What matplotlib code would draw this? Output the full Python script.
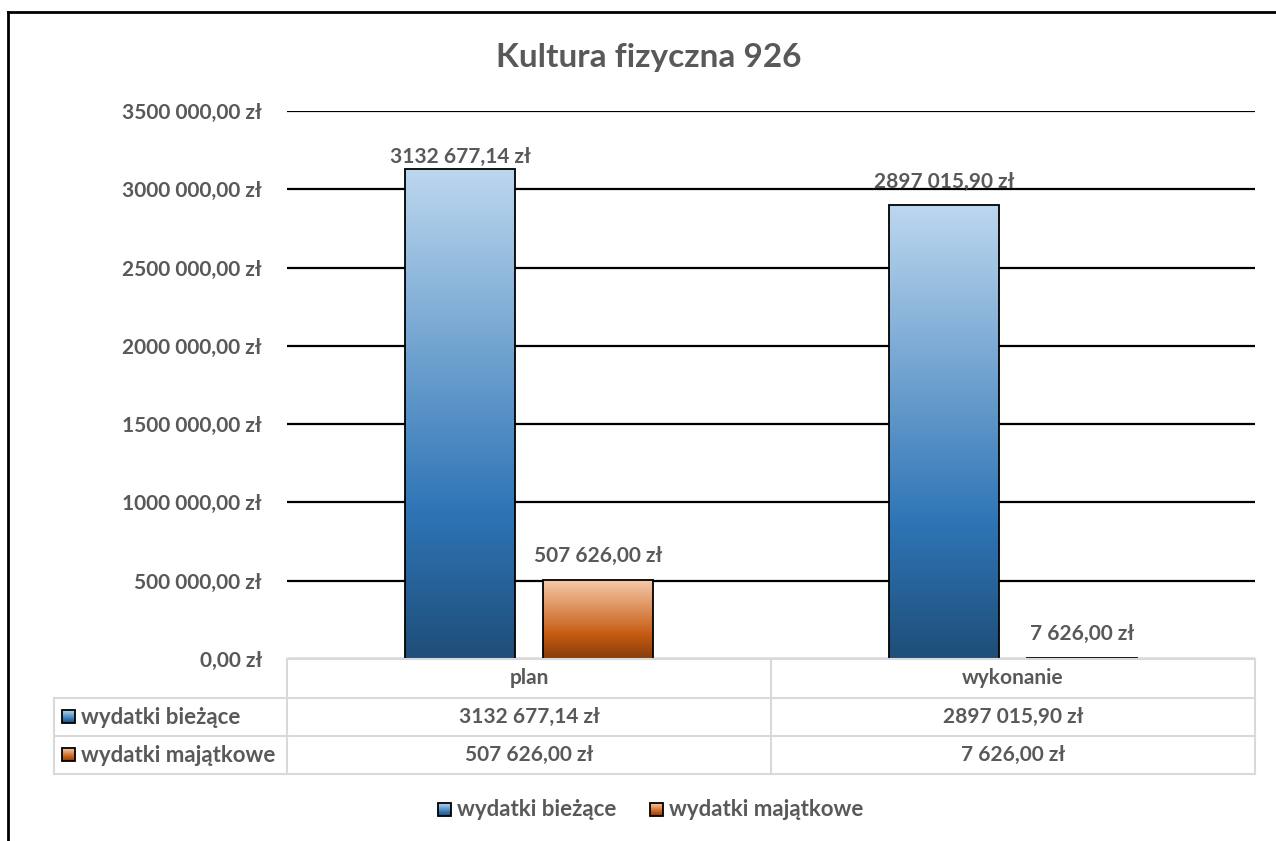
import numpy as np
import matplotlib
matplotlib.use("Agg")
import matplotlib.pyplot as plt
from matplotlib.colors import LinearSegmentedColormap
from matplotlib.patches import Rectangle

# ---- data ----
title = "Kultura fizyczna 926"
categories = ["plan", "wykonanie"]
series_names = ["wydatki bieżące", "wydatki majątkowe"]
wydatki_biezace = [3132677.14, 2897015.90]
wydatki_majatkowe = [507626.00, 7626.00]
y_ticks = [0, 500000, 1000000, 1500000, 2000000, 2500000, 3000000, 3500000]

TEXT = "#595959"
GRID_TABLE = "#d9d9d9"
FONT = ["Lato", "DejaVu Sans"]
plt.rcParams["font.family"] = FONT
plt.rcParams["font.weight"] = "bold"

blue_cmap = LinearSegmentedColormap.from_list(
    "blue", [(0.0, "#1f4e79"), (0.30, "#2e75b6"), (1.0, "#bdd7ee")])
orange_cmap = LinearSegmentedColormap.from_list(
    "orange", [(0.0, "#843c0c"), (0.30, "#c55a11"), (1.0, "#f8cbad")])


def fmt_pln(v):
    whole = int(v)
    cents = int(round((v - whole) * 100))
    if whole >= 1000:
        s = f"{whole // 1000} {whole % 1000:03d}"
    else:
        s = str(whole)
    return f"{s},{cents:02d} zł"


W, H = 1276, 841
fig = plt.figure(figsize=(W / 100, H / 100), dpi=100)
fig.patch.set_facecolor("white")

FS_NUM = 15
FS_TABLE_NUM = 15
FS_WORD = 16

# ---- main plot area ----
left, right, top, bottom = 287, 1255, 111, 659
ax = fig.add_axes([left / W, 1 - bottom / H, (right - left) / W, (bottom - top) / H])
ax.set_facecolor("none")
ax.set_xlim(-0.5, len(categories) - 0.5)
ax.set_ylim(0, 3500000)
ax.set_yticks(y_ticks)
ax.set_yticklabels([fmt_pln(t) for t in y_ticks])
ax.tick_params(axis="y", length=0, pad=18, labelsize=FS_NUM, labelcolor=TEXT)
ax.set_xticks([])
for s in ax.spines.values():
    s.set_visible(False)
ax.yaxis.grid(True, color="black", linewidth=1.6)
ax.set_axisbelow(True)
for lab in ax.get_yticklabels():
    lab.set_fontweight("bold")

x = np.arange(len(categories))
bw = 0.227
off = 0.1426
grad = np.linspace(0, 1, 256).reshape(-1, 1)

label_offsets = [[8, 17], [17, 17]]  # points above each bar (series, category)
for si, (vals, cmap) in enumerate([(wydatki_biezace, blue_cmap),
                                    (wydatki_majatkowe, orange_cmap)]):
    xs = x + (-off if si == 0 else off)
    bars = ax.bar(xs, vals, width=bw, facecolor="none", edgecolor="black",
                  linewidth=1.3, zorder=3)
    for ci, (b, v) in enumerate(zip(bars, vals)):
        x0 = b.get_x()
        im = ax.imshow(grad, cmap=cmap, origin="lower", aspect="auto",
                       extent=(x0, x0 + bw, 0, v), zorder=2,
                       interpolation="bilinear")
        im.set_clip_path(b)
        ax.annotate(fmt_pln(v), (x0 + bw / 2, v),
                    xytext=(0, label_offsets[si][ci]), textcoords="offset points",
                    ha="center", va="center", fontsize=FS_NUM, color=TEXT,
                    fontweight="bold")
ax.set_xlim(-0.5, len(categories) - 0.5)
ax.set_ylim(0, 3500000)

# ---- overlay in pixel space: frame, table, legend ----
ov = fig.add_axes([0, 0, 1, 1], zorder=5)
ov.set_xlim(0, W)
ov.set_ylim(H, 0)
ov.axis("off")
ov.patch.set_alpha(0)

# outer frame
ov.plot([8, W], [12, 12], color="black", lw=2)
ov.plot([8, 8], [12, H], color="black", lw=2)

# title
ov.text(649, 57, title, ha="center", va="center",
        fontsize=24, color=TEXT, fontweight="bold")

# data table
row_y = [659, 698, 736, 774]
mid = (left + right) / 2
tbl_left = 54
lw_t = 1.5
ov.plot([left, right], [row_y[0]] * 2, color=GRID_TABLE, lw=lw_t)
for yy in row_y[1:]:
    ov.plot([tbl_left, right], [yy, yy], color=GRID_TABLE, lw=lw_t)
for xx in [left, mid, right]:
    ov.plot([xx, xx], [row_y[0], row_y[3]], color=GRID_TABLE, lw=lw_t)
ov.plot([tbl_left, tbl_left], [row_y[1], row_y[3]], color=GRID_TABLE, lw=lw_t)

col_centers = [(left + mid) / 2, (mid + right) / 2]
for ci, cat in enumerate(categories):
    ov.text(col_centers[ci], (row_y[0] + row_y[1]) / 2, cat, ha="center",
            va="center", fontsize=FS_NUM, color=TEXT, fontweight="bold")

series_vals = [wydatki_biezace, wydatki_majatkowe]
cmaps = [blue_cmap, orange_cmap]


def swatch(x0, y0, size, cmap):
    ov.imshow(grad, cmap=cmap, origin="lower", aspect="auto",
              extent=(x0, x0 + size, y0 + size, y0), zorder=6,
              interpolation="bilinear")
    ov.add_patch(Rectangle((x0, y0), size, size, facecolor="none",
                           edgecolor="black", lw=1.3, zorder=7))


for ri in range(2):
    yc = (row_y[ri + 1] + row_y[ri + 2]) / 2
    swatch(62, yc - 7, 13, cmaps[ri])
    ov.text(81, yc, series_names[ri], ha="left", va="center", fontsize=FS_WORD,
            color=TEXT, fontweight="bold")
    for ci in range(len(categories)):
        ov.text(col_centers[ci], yc, fmt_pln(series_vals[ri][ci]), ha="center",
                va="center", fontsize=FS_TABLE_NUM, color=TEXT, fontweight="bold")

# legend
leg_y = 810
swatch(438, leg_y - 7, 13, blue_cmap)
ov.text(457, leg_y, series_names[0], ha="left", va="center", fontsize=FS_WORD,
        color=TEXT, fontweight="bold")
swatch(650, leg_y - 7, 13, orange_cmap)
ov.text(669, leg_y, series_names[1], ha="left", va="center", fontsize=FS_WORD,
        color=TEXT, fontweight="bold")

ov.set_xlim(0, W)
ov.set_ylim(H, 0)

fig.savefig("out.png", dpi=100, facecolor="white")
